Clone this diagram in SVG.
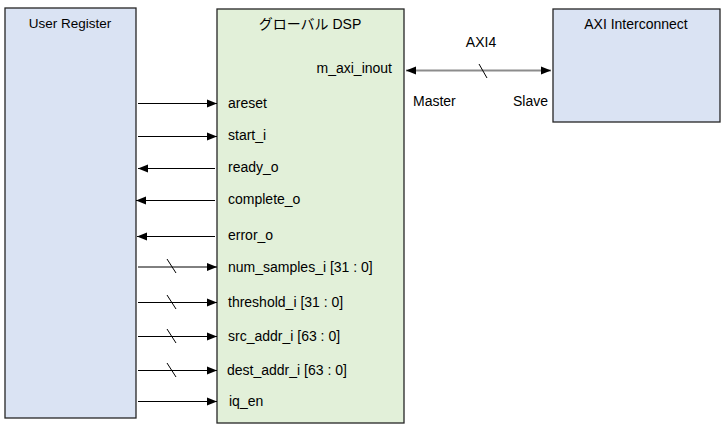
<svg xmlns="http://www.w3.org/2000/svg" width="725" height="429" viewBox="0 0 725 429">
<defs>
<marker id="ah" viewBox="0 0 10 10" refX="10" refY="5" markerWidth="10" markerHeight="10" markerUnits="userSpaceOnUse" orient="auto-start-reverse">
<path d="M0,1 L10,5 L0,9 Z" fill="#000"/>
</marker>
</defs>
<style>
.blue{fill:#dae3f3;stroke:#262626;stroke-width:1.3}
.green{fill:#e2f0d9;stroke:#262626;stroke-width:1.3}
text{font-family:"Liberation Sans","Noto Sans CJK JP",sans-serif;font-size:14px;fill:#000}
.c{text-anchor:middle}
.w{stroke:#000;stroke-width:1;fill:none}
.axi{stroke:#8c8c8c;stroke-width:2;fill:none}
</style>
<g id="user-register">
<rect class="blue" x="5" y="8" width="131" height="410"/>
<text class="c" x="70" y="28" style="font-size:13.5px">User Register</text>
</g>
<g id="dsp">
<rect class="green" x="217" y="9" width="187" height="414"/>
<text class="c" x="310" y="29">グローバル DSP</text>
<text x="392" y="73" text-anchor="end">m_axi_inout</text>
<text x="228" y="108">areset</text>
<text x="228" y="140">start_i</text>
<text x="228" y="172">ready_o</text>
<text x="228" y="204">complete_o</text>
<text x="228" y="240">error_o</text>
<text x="228" y="272">num_samples_i [31 : 0]</text>
<text x="228" y="307">threshold_i [31 : 0]</text>
<text x="228" y="341">src_addr_i [63 : 0]</text>
<text x="227" y="375">dest_addr_i [63 : 0]</text>
<text x="229" y="406">iq_en</text>
</g>
<g id="axi-interconnect">
<rect class="blue" x="553" y="9" width="167" height="113"/>
<text class="c" x="636" y="29">AXI Interconnect</text>
</g>
<g id="connectors">
<line class="axi" x1="406" y1="70.5" x2="551" y2="70.5" marker-start="url(#ah)" marker-end="url(#ah)"/>
<line class="w" x1="479" y1="64" x2="487" y2="78"/>
<text class="c" x="481" y="47">AXI4</text>
<text x="413" y="106">Master</text>
<text x="548" y="106" text-anchor="end">Slave</text>
<line class="w" x1="138" y1="103.5" x2="217" y2="103.5" marker-end="url(#ah)"/>
<line class="w" x1="138" y1="136.5" x2="217" y2="136.5" marker-end="url(#ah)"/>
<line class="w" x1="215" y1="168.5" x2="138" y2="168.5" marker-end="url(#ah)"/>
<line class="w" x1="215" y1="200.5" x2="136" y2="200.5" marker-end="url(#ah)"/>
<line class="w" x1="215" y1="236.5" x2="137" y2="236.5" marker-end="url(#ah)"/>
<line class="w" x1="138" y1="267" x2="217" y2="267" marker-end="url(#ah)"/>
<line class="w" x1="167" y1="259" x2="176" y2="273"/>
<line class="w" x1="138" y1="302.5" x2="217" y2="302.5" marker-end="url(#ah)"/>
<line class="w" x1="167" y1="295" x2="176" y2="309"/>
<line class="w" x1="138" y1="336.5" x2="217" y2="336.5" marker-end="url(#ah)"/>
<line class="w" x1="167" y1="329" x2="176" y2="343"/>
<line class="w" x1="138" y1="370.5" x2="217" y2="370.5" marker-end="url(#ah)"/>
<line class="w" x1="167" y1="363" x2="176" y2="377"/>
<line class="w" x1="138" y1="401.5" x2="217" y2="401.5" marker-end="url(#ah)"/>
</g>
</svg>
